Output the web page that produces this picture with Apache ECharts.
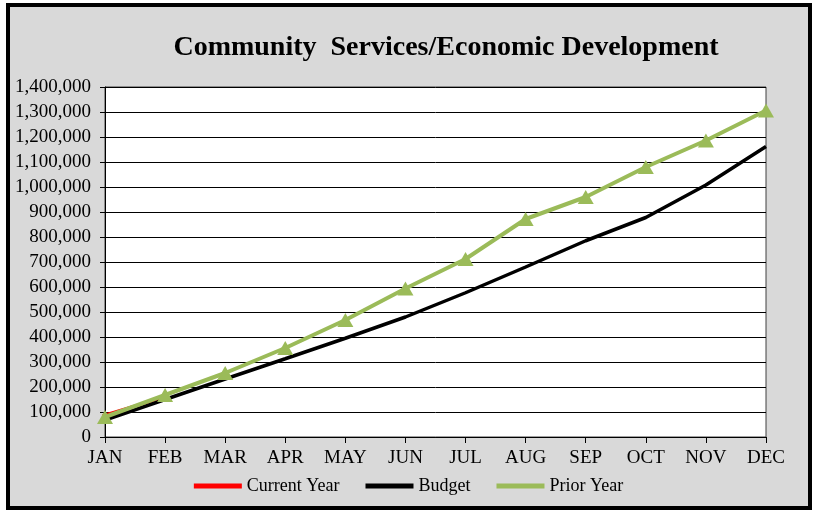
<!DOCTYPE html>
<html>
<head>
<meta charset="utf-8">
<script src="https://cdn.jsdelivr.net/npm/echarts@6/dist/echarts.min.js"></script>
<style>
html,body{margin:0;padding:0;background:#ffffff;}
#c{width:817px;height:512px;}
</style>
</head>
<body>
<div id="c"></div>
<script>
var months = ['JAN','FEB','MAR','APR','MAY','JUN','JUL','AUG','SEP','OCT','NOV','DEC'];
var currentYear = [88000, 160000];
var budget = [68000, 150000, 232000, 313000, 395000, 480000, 577000, 680000, 785000, 878000, 1008000, 1162000];
var priorYear = [80000, 168000, 256000, 356000, 468000, 594000, 712000, 872000, 960000, 1080000, 1186000, 1306000];
var yMin = 0, yMax = 1400000, yStep = 100000;

var serif = '"Liberation Serif", "Times New Roman", serif';
var chart = echarts.init(document.getElementById('c'), null, {renderer: 'canvas'});
chart.setOption({
  animation: false,
  backgroundColor: '#ffffff',
  graphic: [
    {type: 'rect', z: -10, shape: {x: 8, y: 5, width: 802, height: 503}, style: {fill: '#d9d9d9', stroke: '#000000', lineWidth: 4}}
  ],
  title: {
    text: 'Community  Services/Economic Development',
    left: 441, top: 29, textAlign: 'center',
    textStyle: {fontFamily: serif, fontWeight: 'bold', fontSize: 28, color: '#000'}
  },
  legend: {
    top: 472, left: 'center',
    itemWidth: 48, itemHeight: 5, itemGap: 26,
    textStyle: {fontFamily: serif, fontSize: 18, color: '#000'},
    data: [
      {name: 'Current Year', icon: 'rect'},
      {name: 'Budget', icon: 'rect'},
      {name: 'Prior Year', icon: 'rect'}
    ]
  },
  grid: {left: 105, right: 51, top: 87, bottom: 75, show: true, backgroundColor: '#ffffff', borderColor: '#404040', borderWidth: 1},
  xAxis: {
    type: 'category', data: months, boundaryGap: false,
    axisLine: {lineStyle: {color: '#000', width: 1}},
    axisTick: {show: true, length: 6, alignWithLabel: true, lineStyle: {color: '#000'}},
    axisLabel: {fontFamily: serif, fontSize: 19, color: '#000', margin: 12},
    splitLine: {show: false}
  },
  yAxis: {
    type: 'value', min: yMin, max: yMax, interval: yStep,
    axisLine: {show: true, lineStyle: {color: '#000', width: 1}},
    axisTick: {show: true, length: 5, lineStyle: {color: '#000'}},
    axisLabel: {fontFamily: serif, fontSize: 19, color: '#000', margin: 14,
      formatter: function(v){ return v.toLocaleString('en-US'); }},
    splitLine: {show: true, lineStyle: {color: '#000', width: 1}}
  },
  series: [
    {name: 'Current Year', type: 'line', data: currentYear, color: '#ff0000',
      lineStyle: {width: 3, color: '#ff0000'}, symbol: 'diamond', symbolSize: 6, itemStyle: {color: '#ff0000'}, z: 2},
    {name: 'Budget', type: 'line', data: budget, color: '#000000',
      lineStyle: {width: 3.5, color: '#000'}, symbol: 'none', itemStyle: {color: '#000'}, z: 3},
    {name: 'Prior Year', type: 'line', data: priorYear, color: '#9bbb59',
      lineStyle: {width: 4, color: '#9bbb59'}, symbol: 'triangle', symbolSize: [16, 14], itemStyle: {color: '#9bbb59'}, z: 4}
  ]
});
</script>
</body>
</html>
